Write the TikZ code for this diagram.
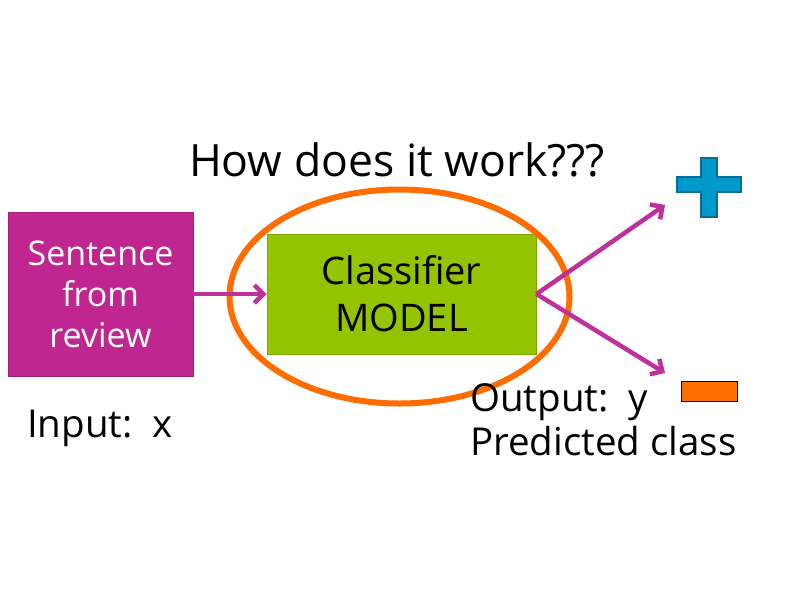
\documentclass[tikz,border=0pt]{standalone}
\usepackage{fontspec}
\setmainfont{Open Sans}
\usetikzlibrary{arrows.meta}
\definecolor{mag}{HTML}{C0268F}
\definecolor{magline}{HTML}{C0309A}
\definecolor{grn}{HTML}{94C300}
\definecolor{grnb}{HTML}{7FA800}
\definecolor{org}{HTML}{FF6C00}
\definecolor{blu}{HTML}{0099CC}
\definecolor{blub}{HTML}{0A6E94}
\tikzset{
  arr/.style={draw=magline, line width=4.5pt, -{Straight Barb[length=9pt,width=18pt,line width=4.5pt]}},
  lbl/.style={anchor=base west, inner sep=0pt, font=\fontsize{38.5}{40}\selectfont},
}
\begin{document}
\begin{tikzpicture}[x=1pt,y=-1pt]
\useasboundingbox (0,0) rectangle (800,600);
\fill[white] (0,0) rectangle (800,600);
% magenta box
\node[draw=mag!85!black, line width=0.8pt, fill=mag, minimum width=185pt, minimum height=164pt, inner sep=0pt,
  text=white, align=center, font=\fontsize{34}{41}\selectfont] (sent) at (100.5,294) {Sentence\\from\\review};
% green box
\node[draw=grnb, line width=1pt, fill=grn, minimum width=269pt, minimum height=120pt, inner sep=0pt,
  align=center, font=\fontsize{38}{47}\selectfont] (model) at (401.5,294) {Classifier\\MODEL};
% orange ellipse
\draw[org, line width=6pt] (399.5,296.5) ellipse [x radius=170, y radius=107];
% title
\node[font=\fontsize{44.5}{40}\selectfont, inner sep=0pt, anchor=base] (title) at (397,176) {How does it work???};
% arrows
\draw[arr] (sent.east) -- (model.west);
\coordinate (plusend) at (665,205);
\coordinate (minusend) at (665,373);
\draw[arr] (model.east) -- (plusend);
\draw[arr] (model.east) -- (minusend);
% plus sign
\path[fill=blu, draw=blub, line width=1.2pt]
  (701,158) -- (717,158) -- (717,177) -- (741,177) -- (741,192) -- (717,192) -- (717,217)
  -- (701,217) -- (701,192) -- (677,192) -- (677,177) -- (701,177) -- cycle;
\node[inner sep=0pt] (plus) at (709,187) {};
% minus sign
\node[draw=black, line width=0.8pt, fill=org, minimum width=56pt, minimum height=20pt, inner sep=0pt] (minus) at (709,391) {};
% labels
\node[lbl] (input) at (27,437) {Input:\ \ x};
\node[lbl] (output) at (470,411) {Output:\ \ y};
\node[lbl] (pred) at (470,455) {Predicted class};
\end{tikzpicture}
\end{document}
